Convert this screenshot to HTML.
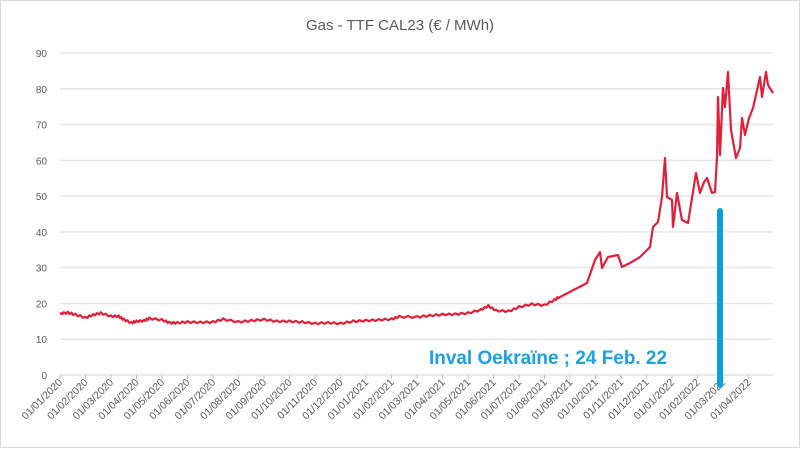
<!DOCTYPE html>
<html><head><meta charset="utf-8"><style>
html,body{margin:0;padding:0;background:#fff;}
body{width:800px;height:448px;overflow:hidden;font-family:"Liberation Sans",sans-serif;}
</style></head><body>
<svg id="s" width="800" height="448" viewBox="0 0 800 448" xmlns="http://www.w3.org/2000/svg">
<rect x="0.5" y="0.5" width="799" height="447" fill="#fff" stroke="#d9d9d9"/>
<text x="400" y="30" text-anchor="middle" font-size="15" fill="#595959" font-family="Liberation Sans, sans-serif">Gas - TTF CAL23 (€ / MWh)</text>
<g id="grid"></g>
<g id="xl"></g>
<path id="line" fill="none" stroke="#e0203a" stroke-width="2.2" stroke-linejoin="round"/>
<rect x="717" y="208" width="6" height="180" rx="3" fill="#0b9ee0"/>
<text x="429" y="364" font-size="19" font-weight="bold" fill="#1aa0e6" font-family="Liberation Sans, sans-serif" textLength="238" lengthAdjust="spacingAndGlyphs">Inval Oekraïne ;  24 Feb. 22</text>
</svg>
<script>
var ns="http://www.w3.org/2000/svg";
function Y(v){return 375-v*3.578;}
function X(m){return 60+25.5*m;}
var g=document.getElementById('grid');
for(var v=0;v<=90;v+=10){
 var l=document.createElementNS(ns,'line');l.setAttribute('x1',60);l.setAttribute('x2',773);
 l.setAttribute('y1',Y(v));l.setAttribute('y2',Y(v));l.setAttribute('stroke',v==0?'#d0d0d0':'#e6e6e6');l.setAttribute('stroke-width',v==0?1:1.5);g.appendChild(l);
 var t=document.createElementNS(ns,'text');t.setAttribute('x',47);t.setAttribute('y',Y(v)+4);t.setAttribute('text-anchor','end');
 t.setAttribute('font-size','10');t.setAttribute('fill','#595959');t.textContent=v;g.appendChild(t);
}
var xl=document.getElementById('xl');
for(var m=0;m<=27;m++){
 var x=X(m);var mo=((m%12)+1);var yr=2020+Math.floor(m/12);
 var lab="01/"+(mo<10?"0":"")+mo+"/"+yr;
 var tk=document.createElementNS(ns,'line');tk.setAttribute('x1',x);tk.setAttribute('x2',x);tk.setAttribute('y1',375);tk.setAttribute('y2',379);tk.setAttribute('stroke','#bfbfbf');xl.appendChild(tk);
 var t=document.createElementNS(ns,'text');t.setAttribute('font-size','10.5');t.setAttribute('fill','#595959');
 t.setAttribute('text-anchor','end');t.setAttribute('transform','translate('+(x+3)+',383) rotate(-45)');t.textContent=lab;xl.appendChild(t);
}
var early=[[0,17.2],[0.3,17.4],[0.6,16.9],[1,16],[1.3,16.8],[1.6,17.3],[2,16.4],[2.3,16.4],[2.5,15.5],[2.8,14.6],[3,15],[3.3,15.2],[3.5,15.8],[4,15.4],[4.3,14.6],[4.6,14.6],[5,14.8],[5.5,14.7],[6,14.8],[6.4,15.6],[7,14.8],[7.5,15.2],[8,15.5],[8.5,15],[9,15],[9.5,14.8],[10,14.4],[10.5,14.6],[11,14.4],[11.5,15],[12,15.2],[12.5,15.4],[13,15.6],[13.3,16.3],[14,16.2],[14.5,16.6],[15,16.9],[15.5,17],[16,17.3],[16.5,18.2],[16.8,19.3],[17.1,18],[17.6,17.8],[18,19],[18.5,19.8],[19,19.5],[19.4,21],[19.6,22]];
var late=[[560,297],[587,283],[595,260],[600,252],[602,268],[608,257],[618,255],[622,267],[630,263],[640,257],[650,247],[653,227],[658,222],[662,197],[665,158],[667,197],[672,200],[673,227],[677,193],[682,220],[688,223],[696,173],[700,193],[704,182],[707,178],[712,193],[715,192],[717,157],[718,97],[720,155],[723,88],[725,107],[728,72],[731,130],[736,158],[740,148],[742,118],[745,135],[749,118],[753,108],[760,77],[762,97],[766,72],[768,85],[773,93]];
var pts=[];
for(var i=0;i<early.length-1;i++){
 var a=early[i],b=early[i+1];
 for(var k=0;k<4;k++){var f=k/4;pts.push([X(a[0]+(b[0]-a[0])*f),Y(a[1]+(b[1]-a[1])*f)+((i*4+k)%2?0.9:-0.9)]);}
}
var d="";
pts.forEach(function(p,i){d+=(i?"L":"M")+p[0].toFixed(1)+" "+p[1].toFixed(1);});
late.forEach(function(p){d+="L"+p[0]+" "+p[1];});
document.getElementById('line').setAttribute('d',d);
</script>
</body></html>
